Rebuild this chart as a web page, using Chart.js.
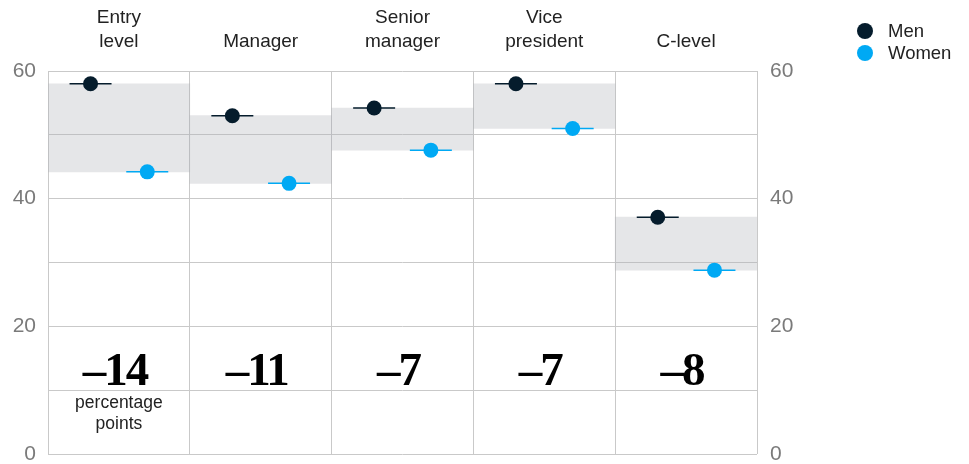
<!DOCTYPE html>
<html>
<head>
<meta charset="utf-8">
<script src="https://cdn.jsdelivr.net/npm/chart.js@4.4.1/dist/chart.umd.min.js"></script>
<style>
  html, body { margin: 0; padding: 0; background: #ffffff; }
  #wrap { width: 969px; height: 464px; position: relative; }
</style>
</head>
<body>
<div id="wrap"><canvas id="gapChart"></canvas></div>
<script>
const categories = [['Entry', 'level'], 'Manager', ['Senior', 'manager'], ['Vice', 'president'], 'C-level'];
const menValues = [58, 53, 54.2, 58, 37.1];
const womenValues = [44.2, 42.4, 47.6, 51, 28.8];
const gapLabels = ['–14', '–11', '–7', '–7', '–8'];
const yTickLabels = [0, 20, 40, 60];
const seriesNames = ['Men', 'Women'];

const colors = {
    men: '#051c2c',
    women: '#00a9f4',
    band: 'rgba(175, 178, 182, 0.32)',
    grid: '#c9c9c9',
    tick: '#7a7a7a',
    text: '#222222'
};
const sans = '"Liberation Sans", Arial, sans-serif';

// points sit left (men) and right (women) of each category centre
const menPoints = menValues.map((v, i) => ({ x: i - 0.2, y: v }));
const womenPoints = womenValues.map((v, i) => ({ x: i + 0.2, y: v }));

const yTicks = {
    stepSize: 10,
    color: colors.tick,
    font: { family: sans, size: 21 },
    callback: (v) => yTickLabels.includes(v) ? v : ''
};

// fixed axis sizes so the plot area lands where the original one is
function fixVertical(width) {
    return (s) => {
        s.width = width;
        s.paddingTop = 0;
        s.paddingBottom = 10;
    };
}

// gap numbers, footnote and legend
const overlayPlugin = {
    id: 'overlay',
    afterDraw(chart) {
        const ctx = chart.ctx;
        const x = chart.scales.x;
        const y = chart.scales.y;
        ctx.save();
        ctx.fillStyle = '#000000';
        ctx.textAlign = 'center';
        ctx.textBaseline = 'alphabetic';
        ctx.font = 'bold 47px "Liberation Serif", serif';
        ctx.letterSpacing = '-2px';
        gapLabels.forEach((g, i) => {
            ctx.fillText(g, x.getPixelForValue(i) - 4, y.getPixelForValue(10.8));
        });
        ctx.letterSpacing = '0px';
        ctx.fillStyle = colors.text;
        ctx.font = '17.5px ' + sans;
        ctx.textBaseline = 'middle';
        ctx.fillText('percentage', x.getPixelForValue(0), y.getPixelForValue(8));
        ctx.fillText('points', x.getPixelForValue(0), y.getPixelForValue(4.7));

        // legend
        const lx = 865;
        [colors.men, colors.women].forEach((c, i) => {
            const ly = 31 + i * 22;
            ctx.fillStyle = c;
            ctx.beginPath();
            ctx.arc(lx, ly, 8, 0, Math.PI * 2);
            ctx.fill();
            ctx.fillStyle = colors.text;
            ctx.textAlign = 'left';
            ctx.font = '18.5px ' + sans;
            ctx.fillText(seriesNames[i], lx + 23, ly + 1);
        });
        ctx.restore();
    }
};

const ctx = document.getElementById('gapChart').getContext('2d');
const gapChart = new Chart(ctx, {
    data: {
        labels: categories,
        datasets: [{
            type: 'scatter',
            label: 'Men',
            data: menPoints,
            xAxisID: 'xp',
            yAxisID: 'y',
            pointRadius: 7.5,
            pointBackgroundColor: colors.men,
            pointBorderWidth: 0,
            order: 1
        }, {
            type: 'scatter',
            label: 'Women',
            data: womenPoints,
            xAxisID: 'xp',
            yAxisID: 'y',
            pointRadius: 7.5,
            pointBackgroundColor: colors.women,
            pointBorderWidth: 0,
            order: 1
        }, {
            type: 'scatter',
            label: 'Men range',
            data: menPoints,
            xAxisID: 'xp',
            yAxisID: 'y',
            pointStyle: 'line',
            pointRadius: 21,
            pointBorderColor: colors.men,
            pointBorderWidth: 1.5,
            order: 2
        }, {
            type: 'scatter',
            label: 'Women range',
            data: womenPoints,
            xAxisID: 'xp',
            yAxisID: 'y',
            pointStyle: 'line',
            pointRadius: 21,
            pointBorderColor: colors.women,
            pointBorderWidth: 1.5,
            order: 2
        }, {
            type: 'bar',
            label: 'Gap',
            data: menValues.map((m, i) => [womenValues[i], m]),
            xAxisID: 'x',
            yAxisID: 'y',
            backgroundColor: colors.band,
            borderWidth: 0,
            grouped: false,
            barPercentage: 1,
            categoryPercentage: 1,
            order: 3
        }]
    },
    options: {
        responsive: true,
        maintainAspectRatio: false,
        animation: false,
        layout: { padding: 0, autoPadding: false },
        plugins: {
            legend: { display: false },
            tooltip: { enabled: false }
        },
        scales: {
            x: {
                type: 'category',
                position: 'top',
                offset: true,
                grid: { offset: true, color: colors.grid, drawTicks: false },
                border: { display: false },
                ticks: {
                    color: colors.text,
                    font: { family: sans, size: 19, lineHeight: 1.22 },
                    padding: 18,
                    maxRotation: 0,
                    autoSkip: false
                },
                afterFit: (s) => { s.height = 71; }
            },
            xp: {
                type: 'linear',
                display: false,
                min: -0.5,
                max: 4.5
            },
            y: {
                position: 'left',
                min: 0,
                max: 60,
                grid: { color: colors.grid, drawTicks: false },
                border: { display: false },
                ticks: Object.assign({ padding: 12 }, yTicks),
                afterFit: fixVertical(48)
            },
            y2: {
                position: 'right',
                min: 0,
                max: 60,
                grid: { display: false, drawTicks: false },
                border: { display: false },
                ticks: Object.assign({ padding: 13 }, yTicks),
                afterFit: fixVertical(212)
            }
        }
    },
    plugins: [overlayPlugin]
});
</script>
</body>
</html>
